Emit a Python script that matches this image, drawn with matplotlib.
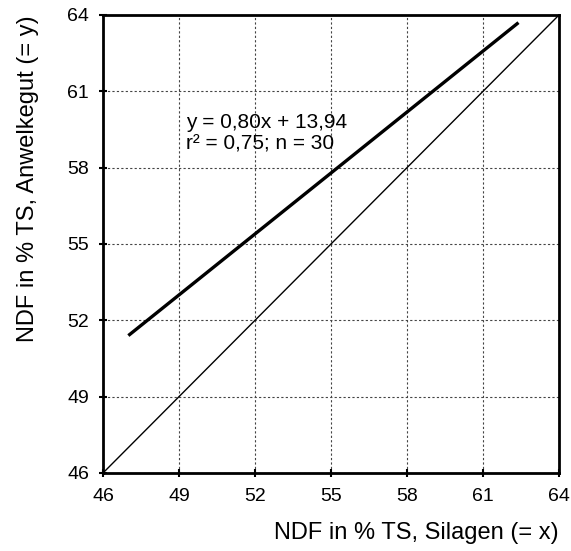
import matplotlib.pyplot as plt

plt.rcParams['font.family'] = ['Liberation Sans', 'DejaVu Sans']

# Daten
ticks = [46, 49, 52, 55, 58, 61, 64]
reg_x = [47.0, 62.4]
reg_y = [51.4, 63.7]
diag_x = [46, 64]
diag_y = [46, 64]
gleichung = 'y = 0,80x + 13,94\nr² = 0,75; n = 30'

fig = plt.figure(figsize=(5.71, 5.51), dpi=100)
ax = fig.add_axes([0.1804, 0.1416, 0.7986, 0.8312])

ax.plot(diag_x, diag_y, color='black', lw=1.0)
ax.plot(reg_x, reg_y, color='black', lw=2.4, solid_capstyle='butt')

ax.set_xlim(46, 64)
ax.set_ylim(46, 64)
ax.set_xticks(ticks)
ax.set_yticks(ticks)
ax.grid(True, color='#444444', linestyle=(0, (2, 2)), lw=0.8)
ax.set_axisbelow(True)

for s in ax.spines.values():
    s.set_linewidth(2)
ax.tick_params(direction='inout', length=6, width=1.5, labelsize=14)
ax.tick_params(axis='x', pad=8)
ax.tick_params(axis='y', pad=7)

ax.text(49.28, 60.15, gleichung, fontsize=15, va='top', linespacing=1.15)

ax.set_xlabel('NDF in % TS, Silagen (= x)', fontsize=17, loc='right', labelpad=12)
ax.set_ylabel('NDF in % TS, Anwelkegut (= y)', fontsize=17, loc='top', labelpad=20)

fig.savefig('out.png', dpi=100)
